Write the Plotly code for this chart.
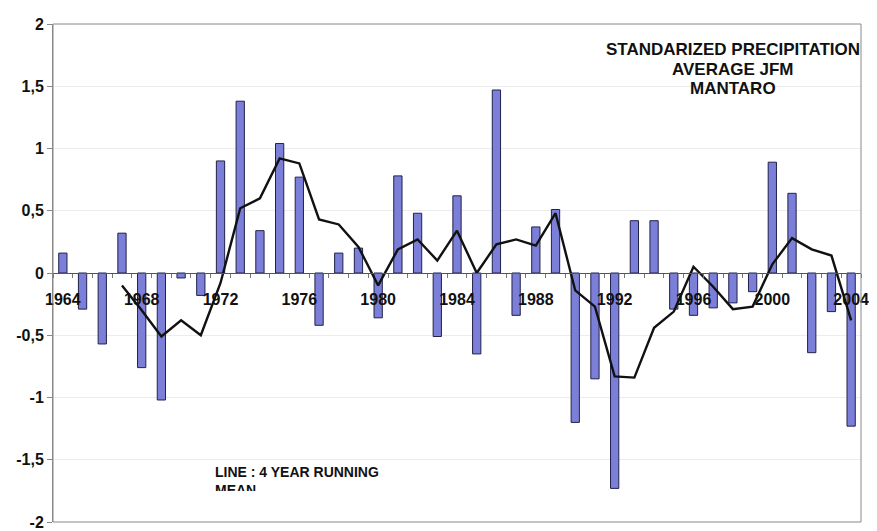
import plotly.graph_objects as go

years = list(range(1964, 2005))
precip = [0.16, -0.29, -0.57, 0.32, -0.76, -1.02, -0.04, -0.18, 0.90, 1.38,
          0.34, 1.04, 0.77, -0.42, 0.16, 0.20, -0.36, 0.78, 0.48, -0.51,
          0.62, -0.65, 1.47, -0.34, 0.37, 0.51, -1.20, -0.85, -1.73, 0.42,
          0.42, -0.29, -0.34, -0.28, -0.24, -0.15, 0.89, 0.64, -0.64, -0.31,
          -1.23]

mean_years = list(range(1967, 2005))
running_mean = [-0.10, -0.30, -0.51, -0.38, -0.50, -0.08, 0.52, 0.60, 0.92, 0.88,
                0.43, 0.39, 0.21, -0.10, 0.19, 0.27, 0.10, 0.34, 0.00, 0.23,
                0.27, 0.22, 0.48, -0.14, -0.27, -0.83, -0.84, -0.44, -0.31, 0.05,
                -0.11, -0.29, -0.27, 0.07, 0.28, 0.19, 0.14, -0.38]

x_tick_vals = list(range(1964, 2005, 4))
x_tick_text = [str(v) for v in x_tick_vals]
y_tick_vals = [2, 1.5, 1, 0.5, 0, -0.5, -1, -1.5, -2]
y_tick_text = ["2", "1,5", "1", "0,5", "0", "-0,5", "-1", "-1,5", "-2"]

title_lines = ["STANDARIZED PRECIPITATION", "AVERAGE JFM", "MANTARO"]
note_text = "LINE : 4 YEAR RUNNING<br>MEAN"

FONT = "Liberation Sans, Arial, sans-serif"

fig = go.Figure()
fig.add_trace(go.Bar(
    x=years, y=precip,
    marker=dict(color="#7b7fd8", line=dict(color="#20224a", width=1)),
    width=0.42,
    showlegend=False,
))
fig.add_trace(go.Scatter(
    x=mean_years, y=running_mean, mode="lines",
    line=dict(color="#111111", width=2.4),
    showlegend=False,
))

annotations = []
for i, line in enumerate(title_lines):
    annotations.append(dict(
        text=line, xref="paper", yref="paper", x=0.842, y=0.948 - i * 0.0385,
        xanchor="center", yanchor="middle", showarrow=False,
        font=dict(family=FONT, size=17, color="#111111", weight="bold")))
annotations.append(dict(
    text=note_text, xref="paper", yref="paper", x=0.198, y=0.121,
    xanchor="left", yanchor="top", showarrow=False, align="left",
    valign="top", height=27,
    font=dict(family=FONT, size=14, color="#111111", weight="bold")))

fig.update_layout(
    width=869, height=531,
    margin=dict(l=44, r=8, t=13, b=13),
    paper_bgcolor="white", plot_bgcolor="white",
    font=dict(family=FONT, color="#111111"),
    xaxis=dict(
        range=[1963.5, 2004.5],
        anchor="free", position=0.5,
        showgrid=False, zeroline=False,
        showline=True, linecolor="#555555", linewidth=1,
        tickvals=x_tick_vals, ticktext=x_tick_text,
        ticks="", ticklabelstandoff=12,
        tickfont=dict(family=FONT, size=16, color="#111111", weight="bold"),
        minor=dict(tick0=1963.5, dtick=1, ticks="outside", ticklen=4,
                   tickcolor="#777777", showgrid=False),
    ),
    yaxis=dict(
        range=[-2, 2], domain=[0, 1],
        tickvals=y_tick_vals, ticktext=y_tick_text,
        ticks="outside", ticklen=5, tickcolor="#888888",
        showgrid=True, gridcolor="#ececec", gridwidth=1,
        zeroline=False,
        showline=True, linecolor="#888888", linewidth=1,
        tickfont=dict(family=FONT, size=16, color="#111111", weight="bold"),
    ),
    shapes=[dict(type="rect", xref="paper", yref="paper", x0=0, x1=1, y0=0, y1=1,
                 line=dict(color="#888888", width=1), layer="above")],
    annotations=annotations,
)

fig.write_html("out.html")
